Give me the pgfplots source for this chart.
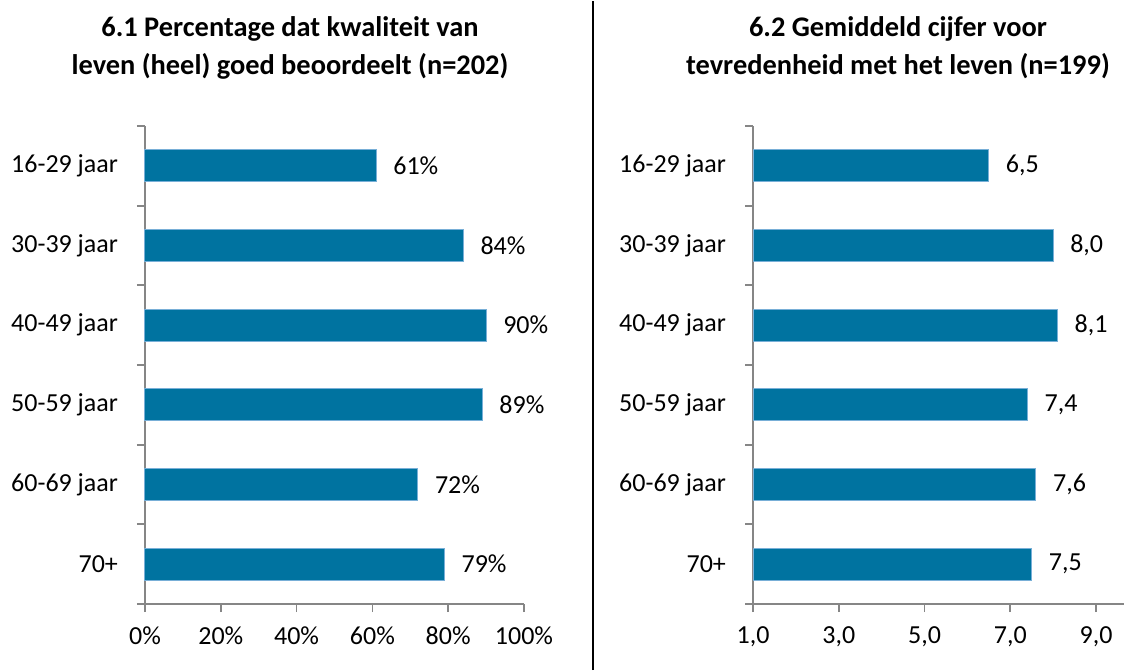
\documentclass[border=0pt]{standalone}
\usepackage{fontspec}
\setmainfont{Carlito}
\usepackage{pgfplots}
\pgfplotsset{compat=1.18}
\definecolor{barblue}{RGB}{0,115,160}
\definecolor{baredge}{RGB}{120,175,215}
\definecolor{axgray}{RGB}{134,134,134}
\newcommand{\lblfont}{\fontsize{13}{15}\selectfont}
\pgfplotsset{
  mybar/.style={
    scale only axis, height=239pt,
    y dir=reverse, ymin=-0.5, ymax=5.5,
    axis x line*=bottom, axis y line*=left,
    axis line style={axgray, line width=0.9pt, -},
    ytick={0,...,5},
    yticklabels={16-29 jaar,30-39 jaar,40-49 jaar,50-59 jaar,60-69 jaar,70+},
    minor ytick={-0.5,0.5,...,5.5},
    tick align=outside, major tick length=4pt, minor tick length=4pt,
    major y tick style={draw=none},
    minor y tick style={axgray, line width=0.9pt},
    major x tick style={axgray, line width=0.9pt},
    tick label style={font=\lblfont, black},
    yticklabel style={xshift=-6pt},
    xticklabel style={yshift=-4pt},
    /pgf/number format/assume math mode=true,
    xbar, bar width=16pt,
    enlarge y limits=false,
    clip=false,
    every node near coord/.append style={font=\lblfont, black, anchor=west, xshift=5pt},
  }
}
\begin{document}
\begin{tikzpicture}[x=1pt,y=1pt]
\path (0,0) rectangle (562.5,334.5);
\begin{axis}[mybar, width=189.5pt, at={(72.5pt,33pt)}, anchor=south west,
  xmin=0, xmax=100, xtick={0,20,...,100},
  xticklabels={0\%,20\%,40\%,60\%,80\%,100\%},
  nodes near coords={\pgfmathprintnumber{\pgfplotspointmeta}\%}]
\addplot[fill=barblue, draw=baredge, line width=0.5pt] coordinates {
(61,0) (84,1) (90,2) (89,3) (72,4) (79,5)};
\end{axis}
\begin{axis}[mybar, width=185.5pt, at={(376.5pt,33pt)}, anchor=south west,
  xmin=1, xmax=9.653, xtick={1,3,5,7,9},
  xticklabels={{1,0},{3,0},{5,0},{7,0},{9,0}},
  nodes near coords={\pgfmathprintnumber[fixed,fixed zerofill,precision=1,use comma]{\pgfplotspointmeta}}]
\addplot[fill=barblue, draw=baredge, line width=0.5pt] coordinates {
(6.5,0) (8.0,1) (8.1,2) (7.4,3) (7.6,4) (7.5,5)};
\end{axis}
\draw[black, line width=1pt] (296.5,0) -- (296.5,334.5);
\node[align=center, font=\bfseries\fontsize{14.2}{19}\selectfont] at (145,311) {6.1 Percentage dat kwaliteit van\\leven (heel) goed beoordeelt (n=202)};
\node[align=center, font=\bfseries\fontsize{14.2}{19}\selectfont] at (449,311) {6.2 Gemiddeld cijfer voor\\tevredenheid met het leven (n=199)};
\end{tikzpicture}
\end{document}
